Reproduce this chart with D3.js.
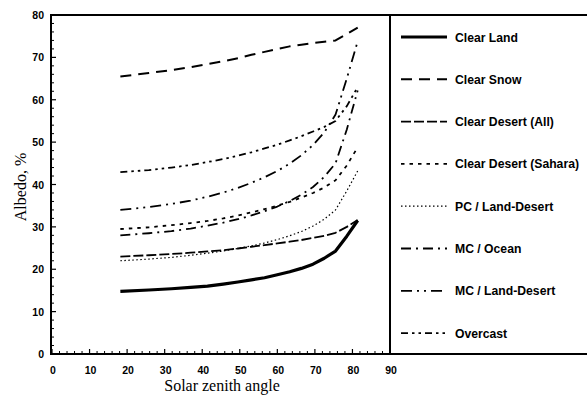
<!DOCTYPE html>
<html><head><meta charset="utf-8">
<script src="https://cdn.jsdelivr.net/npm/d3@7"></script>
<style>body{margin:0;background:#fff}svg{display:block}</style>
</head><body>
<script>
const angles = [18.2, 25.8, 31.8, 36.9, 41.4, 45.6, 49.5, 53.1, 56.6, 60.0, 63.3, 66.4, 69.5, 72.5, 75.5, 78.5, 81.4];
const clearLand    = [14.8, 15.1, 15.4, 15.7, 16.0, 16.5, 17.0, 17.5, 18.0, 18.7, 19.4, 20.2, 21.2, 22.6, 24.3, 27.8, 31.5];
const clearSnow    = [65.5, 66.3, 67.0, 67.7, 68.4, 69.1, 69.8, 70.6, 71.3, 72.0, 72.6, 73.0, 73.4, 73.7, 74.0, 75.5, 77.0];
const desertAll    = [23.0, 23.3, 23.6, 23.9, 24.2, 24.5, 24.9, 25.3, 25.7, 26.1, 26.5, 26.9, 27.4, 27.9, 28.6, 30.0, 31.6];
const desertSahara = [29.5, 29.9, 30.4, 30.9, 31.4, 32.0, 32.7, 33.4, 34.2, 35.0, 35.9, 36.9, 38.0, 39.3, 41.0, 44.5, 48.8];
const pcLandDesert = [22.0, 22.4, 22.8, 23.3, 23.8, 24.3, 24.9, 25.5, 26.2, 27.0, 27.9, 28.9, 30.2, 31.8, 34.0, 38.5, 43.2];
const mcOcean      = [28.0, 28.5, 29.0, 29.6, 30.3, 31.0, 31.8, 32.7, 33.7, 34.8, 36.1, 37.6, 39.4, 41.8, 45.0, 53.0, 62.2];
const mcLandDesert = [34.0, 34.7, 35.4, 36.2, 37.1, 38.1, 39.2, 40.4, 41.7, 43.2, 44.9, 46.9, 49.3, 52.3, 56.5, 65.0, 73.8];
const overcast     = [42.9, 43.4, 44.0, 44.6, 45.3, 46.0, 46.8, 47.6, 48.5, 49.4, 50.4, 51.4, 52.5, 53.6, 55.0, 58.5, 63.0];
const seriesNames = ["Clear Land", "Clear Snow", "Clear Desert (All)", "Clear Desert (Sahara)", "PC / Land-Desert", "MC / Ocean", "MC / Land-Desert", "Overcast"];
const seriesValues = [clearLand, clearSnow, desertAll, desertSahara, pcLandDesert, mcOcean, mcLandDesert, overcast];
const xTicks = [0, 10, 20, 30, 40, 50, 60, 70, 80, 90];
const yTicks = [0, 10, 20, 30, 40, 50, 60, 70, 80];

const styles = [
  {w: 3.2, dash: null},
  {w: 2.0, dash: "11,7"},
  {w: 1.8, dash: "10,3"},
  {w: 1.8, dash: "3.5,5"},
  {w: 1.2, dash: "1.5,2.5"},
  {w: 1.8, dash: "10,5,2,5"},
  {w: 1.8, dash: "11,5,2,5,2,5"},
  {w: 1.8, dash: "7,4,2.5,4,2.5,4"}
];

const W = 587, H = 396;
const svg = d3.select("body").append("svg").attr("width", W).attr("height", H);
const x = d3.scaleLinear().domain([0, 90]).range([52, 390]);
const y = d3.scaleLinear().domain([0, 80]).range([354, 15]);

// minor ticks
const minorX = d3.range(0, 91, 2).filter(v => v % 10 !== 0);
const minorY = d3.range(0, 81, 2).filter(v => v % 10 !== 0);
const ax = svg.append("g").attr("stroke", "#000");
ax.selectAll("line.mx").data(minorX).join("line")
  .attr("x1", d => x(d)).attr("x2", d => x(d)).attr("y1", 354).attr("y2", 351).attr("stroke-width", 1);
ax.selectAll("line.Mx").data(xTicks).join("line")
  .attr("x1", d => x(d)).attr("x2", d => x(d)).attr("y1", 354).attr("y2", 349).attr("stroke-width", 1.2);
ax.selectAll("line.my").data(minorY).join("line")
  .attr("y1", d => y(d)).attr("y2", d => y(d)).attr("x1", 51).attr("x2", 54).attr("stroke-width", 1);
ax.selectAll("line.My").data(yTicks).join("line")
  .attr("y1", d => y(d)).attr("y2", d => y(d)).attr("x1", 51).attr("x2", 56).attr("stroke-width", 1.2);

// frame
svg.append("line").attr("x1", 51).attr("x2", W).attr("y1", 15).attr("y2", 15).attr("stroke", "#000").attr("stroke-width", 2);
svg.append("line").attr("x1", 51).attr("x2", W).attr("y1", 354).attr("y2", 354).attr("stroke", "#000").attr("stroke-width", 2);
svg.append("line").attr("x1", 51).attr("x2", 51).attr("y1", 14).attr("y2", 355).attr("stroke", "#000").attr("stroke-width", 2);
svg.append("line").attr("x1", 390).attr("x2", 390).attr("y1", 14).attr("y2", 355).attr("stroke", "#000").attr("stroke-width", 2);

// tick labels
const tf = "'Liberation Sans', Arial, sans-serif";
svg.append("g").selectAll("text").data(xTicks).join("text")
  .attr("x", d => x(d) + 1).attr("y", 374).attr("text-anchor", "middle")
  .attr("font-family", tf).attr("font-weight", "bold").attr("font-size", 10.5).text(d => d);
svg.append("g").selectAll("text").data(yTicks).join("text")
  .attr("x", 44).attr("y", d => y(d) + 4).attr("text-anchor", "end")
  .attr("font-family", tf).attr("font-weight", "bold").attr("font-size", 10.5).text(d => d);

// axis titles
svg.append("text").attr("x", 222).attr("y", 391).attr("text-anchor", "middle")
  .attr("font-family", "'Liberation Serif', 'Times New Roman', serif").attr("font-size", 16).text("Solar zenith angle");
svg.append("text").attr("transform", "translate(26,187) rotate(-90)").attr("text-anchor", "middle")
  .attr("font-family", "'Liberation Serif', 'Times New Roman', serif").attr("font-size", 16).text("Albedo, %");

// lines
const line = d3.line().x((d, i) => x(angles[i])).y(d => y(d));
svg.append("g").selectAll("path").data(seriesValues).join("path")
  .attr("d", d => line(d)).attr("fill", "none").attr("stroke", "#000")
  .attr("stroke-width", (d, i) => styles[i].w)
  .attr("stroke-dasharray", (d, i) => styles[i].dash)
  .attr("stroke-linejoin", "round");

// legend
const lg = svg.append("g");
seriesNames.forEach((name, i) => {
  const ly = 37 + i * 42.3;
  lg.append("line").attr("x1", 401).attr("x2", 447).attr("y1", ly).attr("y2", ly)
    .attr("stroke", "#000").attr("stroke-width", styles[i].w).attr("stroke-dasharray", styles[i].dash);
  lg.append("text").attr("x", 455).attr("y", ly + 4.5).attr("font-family", tf).attr("font-weight", "bold")
    .attr("font-size", 12.2).text(name);
});
</script>
</body></html>
